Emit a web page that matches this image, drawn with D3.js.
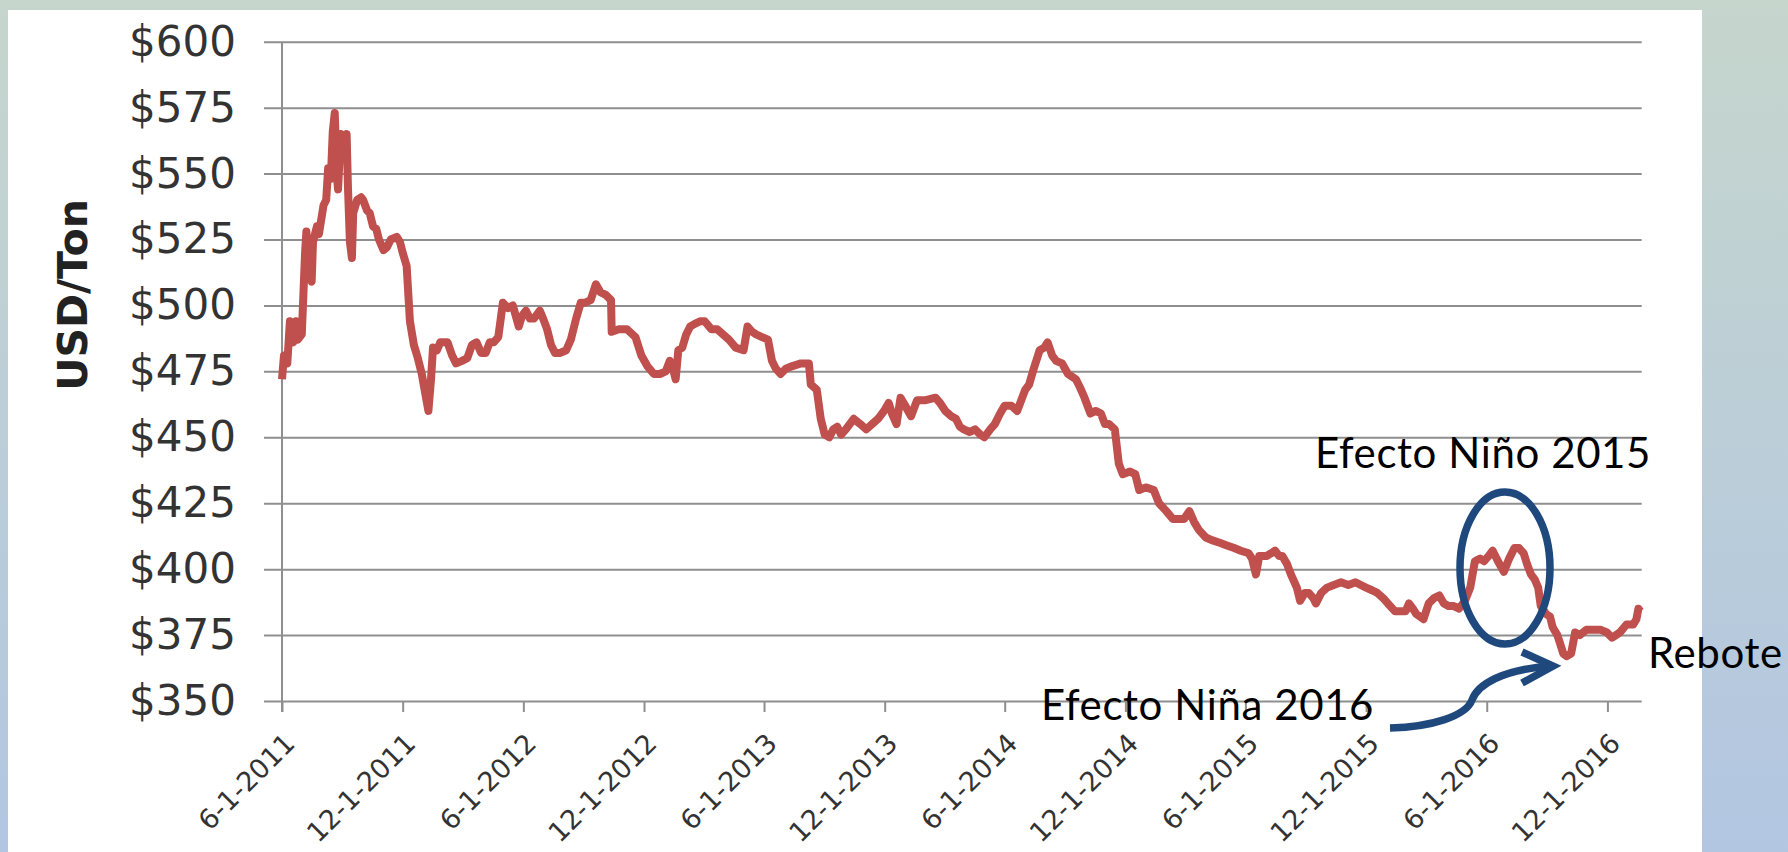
<!DOCTYPE html>
<html>
<head>
<meta charset="utf-8">
<script src="https://cdn.jsdelivr.net/npm/d3@7"></script>
<style>
  html, body { margin: 0; padding: 0; }
  body { width: 1788px; height: 852px; overflow: hidden; }
</style>
</head>
<body>
<div id="chart"></div>
<script>
// price readings per year: "MM-DD" and USD/ton
const days2011 = ["06-01","06-04","06-09","06-13","06-18","06-22","06-25","07-01","07-06","07-08","07-12","07-16","07-18","07-24","07-27",
  "08-03","08-07","08-10","08-14","08-17","08-20","08-23","08-25","08-29","09-01","09-07","09-09","09-12","09-15","09-17","09-23","09-29",
  "10-02","10-08","10-12","10-17","10-22","10-26","11-02","11-07","11-13","11-22","11-27","12-01","12-07","12-12","12-18","12-24","12-30"];
const price2011 = [472,481,478,494,486,494,487,489,520,528,512,509,524,530,527,
  538,540,552,548,566,573,550,544,565,560,565,545,524,518,535,540,541,
  540,536,535,530,529,525,521,522,525,526,524,520,515,494,485,480,474];

const days2012 = ["01-04","01-09","01-13","01-16","01-22","01-27","02-07","02-14","02-20","02-29","03-08","03-15","03-22","03-29",
  "04-05","04-11","04-17","04-24","05-01","05-09","05-16","05-25","05-30","06-05","06-11","06-17","06-26",
  "07-01","07-07","07-13","07-19","07-27","08-05","08-12","08-20","08-27","09-02","09-11","09-19","09-26",
  "10-04","10-12","10-13","10-24","11-05","11-18","11-27","12-06","12-16","12-25"];
const price2012 = [467,460,472,484,483,486,486,481,478,479,480,485,486,482,
  482,486,486,488,501,499,500,492,496,498,495,495,498,
  495,491,485,482,482,483,487,495,501,501,502,508,505,
  504,502,490,491,491,488,481,477,474,474];

const days2013 = ["01-03","01-09","01-14","01-18","01-22","01-28","02-03","02-09","02-16","02-24","03-03","03-13","03-22","03-31",
  "04-09","04-19","05-01","05-07","05-14","05-20","05-29","06-07","06-13","06-19","06-26","07-04","07-14","07-27",
  "08-08","08-11","08-20","08-26","09-01","09-08","09-14","09-20","09-26","10-03","10-09","10-15","10-25",
  "11-03","11-12","11-21","11-30","12-07","12-12","12-19","12-25"];
const price2013 = [475,479,476,472,483,484,489,492,493,494,494,491,491,489,
  487,484,483,492,490,489,488,487,479,476,474,476,477,478,
  478,470,468,457,451,450,453,454,451,453,455,457,455,
  453,455,457,460,463,459,455,465];

const days2014 = ["01-01","01-10","01-19","01-31","02-16","02-23","03-03","03-12","03-19","03-25","03-31","04-09","04-17","04-25",
  "05-01","05-10","05-17","05-25","06-01","06-11","06-20","06-26","07-02","07-08","07-15","07-24","07-31",
  "08-05","08-12","08-18","08-27","09-05","09-11","09-17","09-23","09-30","10-09","10-17","10-25","10-31",
  "11-06","11-15","11-21","11-27","12-08","12-16","12-22"];
const price2014 = [462,458,464,464,465,463,460,458,457,454,453,452,453,451,
  450,453,455,459,462,462,460,464,468,470,476,483,484,
  486,481,479,478,474,473,472,469,465,459,460,459,455,
  455,453,440,436,437,436,430];

const days2015 = ["01-01","01-13","01-21","02-01","02-11","02-22","02-28","03-08","03-15","03-22","04-02","04-11","04-23",
  "05-04","05-15","05-25","06-06","06-11","06-17","06-22","07-03","07-10","07-16","07-22","07-27",
  "08-03","08-09","08-18","08-23","08-30","09-05","09-12","09-16","09-24","10-03","10-13","10-24",
  "11-04","11-15","11-23","12-01","12-10","12-18","12-27"];
const price2015 = [431,430,425,422,419,419,419,422,418,415,412,411,410,
  409,408,407,406,404,398,405,405,406,407,405,405,
  402,398,393,388,391,391,389,387,391,393,394,395,
  394,395,394,393,392,391,389];

const days2016 = ["01-03","01-14","01-21","01-30","02-04","02-10","02-15","02-21","02-26","03-05","03-13","03-21","03-28",
  "04-04","04-12","04-20","04-29","05-07","05-14","05-22","05-28","06-04","06-10","06-18","06-27",
  "07-05","07-13","07-20","07-27","08-01","08-07","08-13","08-18","08-22","08-30",
  "09-05","09-09","09-16","09-20","09-25","09-30","10-07","10-13","10-20","10-30",
  "11-06","11-14","11-21","11-30","12-08","12-14","12-20","12-30"];
const price2016 = [387,384,384,384,387,385,383,382,381,387,389,390,387,
  386,386,385,388,393,403,404,403,405,407,403,399,
  404,408,408,406,402,398,396,393,386,383,
  382,378,375,372,368,367,368,376,375,377,
  377,377,377,376,374,375,376,379];

const days2017 = ["01-09","01-14","01-17","01-20"];
const price2017 = [379,381,385,384];

const tickDates = ["2011-06-01","2011-12-01","2012-06-01","2012-12-01","2013-06-01","2013-12-01",
  "2014-06-01","2014-12-01","2015-06-01","2015-12-01","2016-06-01","2016-12-01"];
const yTicks = [350,375,400,425,450,475,500,525,550,575,600];
const yTitle = "USD/Ton";
const noteNino = "Efecto Niño 2015";
const noteNina = "Efecto Niña 2016";
const noteRebote = "Rebote";

const W = 1788, H = 852;
const plotLeft = 282, plotRight = 1641.7, plotTop = 41.7, plotBottom = 701;
const parse = d3.utcParse("%Y-%m-%d");

const years = [
  [2011, days2011, price2011], [2012, days2012, price2012], [2013, days2013, price2013],
  [2014, days2014, price2014], [2015, days2015, price2015], [2016, days2016, price2016],
  [2017, days2017, price2017]
];
const data = [];
years.forEach(([yr, ds, ps]) => {
  ds.forEach((d, i) => data.push({ date: parse(`${yr}-${d}`), value: ps[i] }));
});

const x = d3.scaleUtc()
  .domain([parse("2011-06-01"), parse("2017-01-22")])
  .range([plotLeft, plotRight]);
const y = d3.scaleLinear().domain([350, 600]).range([plotBottom, plotTop]);

const svg = d3.select("#chart").append("svg")
  .attr("width", W).attr("height", H);

const grad = svg.append("defs").append("linearGradient")
  .attr("id", "bg").attr("x1", 0).attr("y1", 0).attr("x2", 0).attr("y2", 1);
grad.append("stop").attr("offset", "0%").attr("stop-color", "#c6d6cd");
grad.append("stop").attr("offset", "100%").attr("stop-color", "#b2c6e2");

svg.append("rect").attr("width", W).attr("height", H).attr("fill", "url(#bg)");
svg.append("rect").attr("x", 8).attr("y", 10).attr("width", 1694).attr("height", H - 10).attr("fill", "#fff");

// gridlines + y labels
const gy = svg.append("g")
  .attr("transform", `translate(${plotRight},0)`)
  .call(d3.axisLeft(y).tickValues(yTicks).tickSize(plotRight - 264).tickPadding(28).tickFormat(d => "$" + d));
gy.select(".domain").remove();
gy.selectAll("line").attr("stroke", "#8f8f8f").attr("stroke-width", 2);
gy.selectAll("text")
  .attr("font-family", "DejaVu Sans").attr("font-size", 42).attr("fill", "#333");

// vertical axis line
svg.append("line")
  .attr("x1", plotLeft).attr("x2", plotLeft)
  .attr("y1", plotTop).attr("y2", plotBottom + 11)
  .attr("stroke", "#8f8f8f").attr("stroke-width", 2);

// x axis
const fmt = d3.utcFormat("%-m-%-d-%Y");
const gx = svg.append("g")
  .attr("transform", `translate(0,${plotBottom})`)
  .call(d3.axisBottom(x).tickValues(tickDates.map(parse)).tickSize(11).tickFormat(fmt));
gx.select(".domain").remove();
gx.selectAll("line").attr("stroke", "#8f8f8f").attr("stroke-width", 2);
gx.selectAll("text")
  .attr("x", 0).attr("y", 0).attr("dy", 0)
  .attr("text-anchor", "end")
  .attr("transform", "translate(14,44) rotate(-45)")
  .attr("font-family", "DejaVu Sans").attr("font-size", 27).attr("fill", "#333");

// y title
svg.append("text")
  .attr("transform", "translate(87,295) rotate(-90)")
  .attr("text-anchor", "middle")
  .attr("font-family", "DejaVu Sans").attr("font-weight", "bold").attr("font-size", 41)
  .attr("fill", "#222")
  .text(yTitle);

// price line
const line = d3.line().x(d => x(d.date)).y(d => y(d.value));
svg.append("path")
  .datum(data)
  .attr("d", line)
  .attr("fill", "none")
  .attr("stroke", "#c0504d")
  .attr("stroke-width", 8)
  .attr("stroke-linejoin", "round");

// annotations
const blue = "#1f497d";
svg.append("ellipse")
  .attr("cx", 1505).attr("cy", 568).attr("rx", 45).attr("ry", 76)
  .attr("fill", "none").attr("stroke", blue).attr("stroke-width", 7.5);

svg.append("path")
  .attr("d", "M1390,728 C1432,727 1466,716 1472,700 C1478,684 1502,670 1550,666")
  .attr("fill", "none").attr("stroke", blue).attr("stroke-width", 7.5);
svg.append("path")
  .attr("d", "M1522,652 L1553,666 L1522,683")
  .attr("fill", "none").attr("stroke", blue).attr("stroke-width", 7.5);

const note = (txt, tx, ty) => svg.append("text")
  .attr("x", tx).attr("y", ty)
  .attr("font-family", "Lato").attr("font-size", 42).attr("letter-spacing", 0.6)
  .attr("fill", "#000")
  .text(txt);
note(noteNino, 1315, 468);
note(noteNina, 1041, 720);
note(noteRebote, 1648, 668);
</script>
</body>
</html>
